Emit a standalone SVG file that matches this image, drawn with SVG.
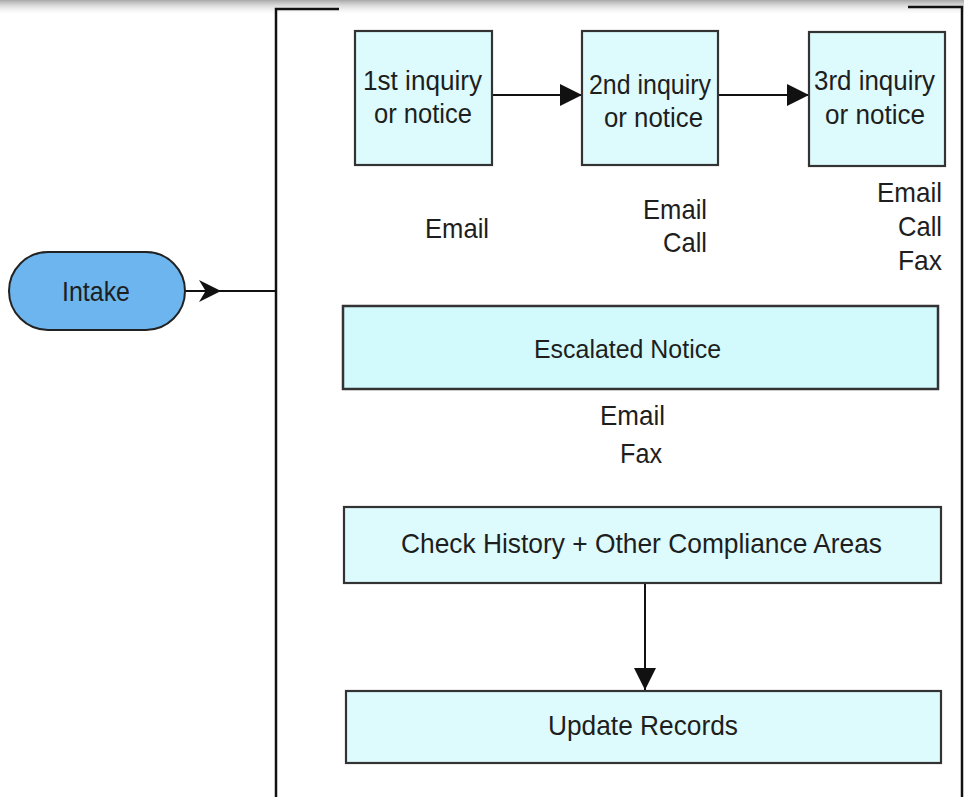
<svg xmlns="http://www.w3.org/2000/svg" width="964" height="797" viewBox="0 0 964 797">
<defs>
<linearGradient id="shade" x1="0" y1="0" x2="0" y2="1">
<stop offset="0" stop-color="#a8a8a8"/>
<stop offset="1" stop-color="#ffffff" stop-opacity="0"/>
</linearGradient>
<marker id="tri" viewBox="0 0 10 10" refX="10" refY="5" markerWidth="22" markerHeight="22" markerUnits="userSpaceOnUse" orient="auto">
<path d="M0,0 L10,5 L0,10 Z" fill="#111"/>
</marker>
<marker id="chev" viewBox="0 0 10 10" refX="10" refY="5" markerWidth="22" markerHeight="22" markerUnits="userSpaceOnUse" orient="auto">
<path d="M0,0 L10,5 L0,10 L3,5 Z" fill="#111"/>
</marker>
</defs>
<style>
.box{fill:#ddfbfd;stroke:#333;stroke-width:2.2}
.esc{fill:#d2fafc;stroke:#333;stroke-width:2.5}
.frame{fill:none;stroke:#111;stroke-width:2.5}
.conn{fill:none;stroke:#111;stroke-width:2}
text{font-family:"Liberation Sans",Arial,sans-serif;fill:#1e1e1e;font-size:27.5px}
.t25{font-size:25px}
</style>
<rect x="0" y="0" width="964" height="797" fill="#ffffff"/>
<rect x="0" y="0" width="964" height="16" fill="url(#shade)"/>
<g id="frame">
<path class="frame" d="M339,9 L276,9 L276,797"/>
<path class="frame" d="M908,7 L962,7 L962,797"/>
</g>
<g id="connectors">
<line class="conn" x1="185" y1="291" x2="276" y2="291"/>
<line class="conn" x1="185" y1="291" x2="221" y2="291" marker-end="url(#chev)"/>
<line class="conn" x1="492" y1="95" x2="582" y2="95" marker-end="url(#tri)"/>
<line class="conn" x1="718" y1="95" x2="809" y2="95" marker-end="url(#tri)"/>
<line class="conn" x1="645" y1="583" x2="645" y2="690" marker-end="url(#tri)"/>
</g>
<g id="intake">
<rect x="9" y="252" width="176" height="78" rx="39" fill="#6cb5ee" stroke="#222" stroke-width="2"/>
<text x="62" y="301" textLength="68" lengthAdjust="spacingAndGlyphs">Intake</text>
</g>
<g id="inquiry1">
<rect class="box" x="355" y="31" width="137" height="134"/>
<text x="363" y="90" textLength="119" lengthAdjust="spacingAndGlyphs">1st inquiry</text>
<text x="374" y="123" textLength="98" lengthAdjust="spacingAndGlyphs">or notice</text>
</g>
<g id="inquiry2">
<rect class="box" x="582" y="31" width="136" height="134"/>
<text x="589" y="94" textLength="122" lengthAdjust="spacingAndGlyphs">2nd inquiry</text>
<text x="604" y="127" textLength="99" lengthAdjust="spacingAndGlyphs">or notice</text>
</g>
<g id="inquiry3">
<rect class="box" x="809" y="32" width="136" height="134"/>
<text x="814" y="90" textLength="121" lengthAdjust="spacingAndGlyphs">3rd inquiry</text>
<text x="825" y="124" textLength="100" lengthAdjust="spacingAndGlyphs">or notice</text>
</g>
<g id="channels1">
<text x="425" y="238" textLength="64" lengthAdjust="spacingAndGlyphs">Email</text>
</g>
<g id="channels2">
<text x="643" y="219" textLength="64" lengthAdjust="spacingAndGlyphs">Email</text>
<text x="663" y="252" textLength="44" lengthAdjust="spacingAndGlyphs">Call</text>
</g>
<g id="channels3">
<text x="877" y="202" textLength="65" lengthAdjust="spacingAndGlyphs">Email</text>
<text x="898" y="236" textLength="44" lengthAdjust="spacingAndGlyphs">Call</text>
<text x="898" y="270" textLength="44" lengthAdjust="spacingAndGlyphs">Fax</text>
</g>
<g id="escalated">
<rect class="esc" x="343" y="306" width="595" height="83"/>
<text x="534" y="358" class="t25" textLength="187" lengthAdjust="spacingAndGlyphs">Escalated Notice</text>
</g>
<g id="channels4">
<text x="600" y="425" textLength="65" lengthAdjust="spacingAndGlyphs">Email</text>
<text x="620" y="463" textLength="42" lengthAdjust="spacingAndGlyphs">Fax</text>
</g>
<g id="check">
<rect class="box" x="344" y="507" width="597" height="76"/>
<text x="401" y="553" textLength="481" lengthAdjust="spacingAndGlyphs">Check History + Other Compliance Areas</text>
</g>
<g id="update">
<rect class="box" x="346" y="691" width="595" height="72"/>
<text x="548" y="735" textLength="190" lengthAdjust="spacingAndGlyphs">Update Records</text>
</g>
</svg>
